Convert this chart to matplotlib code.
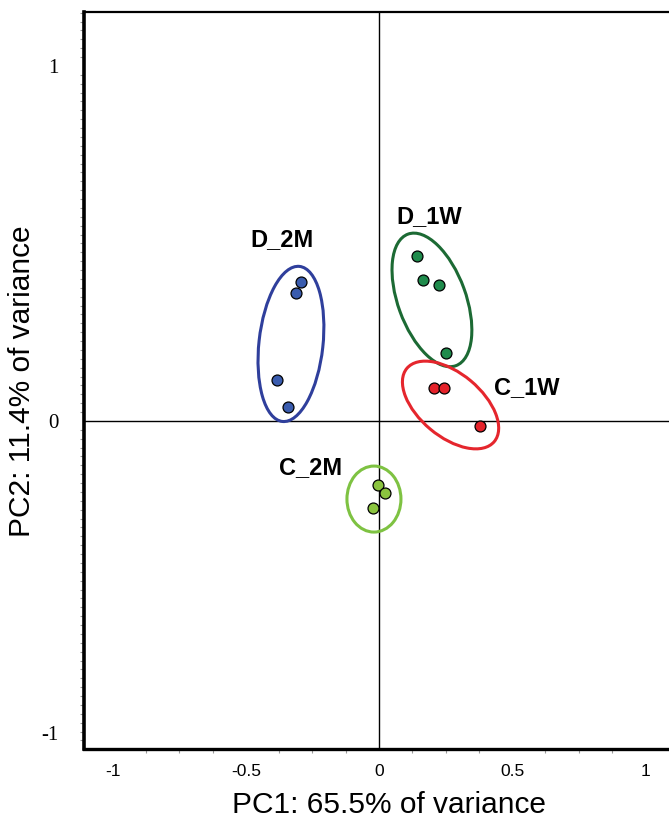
#!/usr/bin/env python

import numpy as np
import matplotlib
matplotlib.use('Agg')
from matplotlib import pyplot as plt
from matplotlib.patches import Ellipse
import matplotlib.transforms as mtransforms
from matplotlib.ticker import MultipleLocator, FixedLocator

# PCA scores (PC1, PC2)
d2m_pc1 = [-0.293, -0.312, -0.383, -0.342]
d2m_pc2 = [0.392, 0.361, 0.115, 0.039]

d1w_pc1 = [0.143, 0.165, 0.226, 0.252]
d1w_pc2 = [0.465, 0.397, 0.383, 0.192]

c1w_pc1 = [0.205, 0.246, 0.380]
c1w_pc2 = [0.093, 0.093, -0.014]

c2m_pc1 = [-0.005, 0.023, -0.024]
c2m_pc2 = [-0.180, -0.204, -0.246]

group_names = ['D_2M', 'D_1W', 'C_1W', 'C_2M']

# ellipse centres in data units
ell_pc1 = [-0.331, 0.199, 0.269, -0.019]
ell_pc2 = [0.217, 0.341, 0.045, -0.220]

# group label anchors in data units
label_pc1 = [-0.365, 0.188, 0.556, -0.256]
label_pc2 = [0.510, 0.577, 0.093, -0.132]

# y tick labels as the reference prints them
ytick_vals = [-0.88, 0, 1]
ytick_text = ['-1', '0', '1']
xtick_vals = [-1, -0.5, 0, 0.5, 1]
xtick_text = ['-1', '-0.5', '0', '0.5', '1']

# styles
point_cols = ['#3a5cae', '#1f8b4c', '#e4222a', '#8bc43f']
ring_cols = ['#2f3f9c', '#1c6a34', '#e5262d', '#7ec242']
# ellipse shape in inches (major, minor, angle in degrees)
ring_shape = [(1.56, 0.64, 83.7), (1.40, 0.68, 110.0), (1.14, 0.63, 140.0), (0.66, 0.54, 90.0)]

fig = plt.figure(figsize=(6.69, 8.21), dpi=100)
ax = fig.add_axes([84 / 669, 72 / 821, 590 / 669, 737 / 821])

ax.set_xlim(-1.109, 1.109)
ax.set_ylim(-0.924, 1.152)

# zero lines
ax.axhline(0, color='black', lw=1.0, zorder=1)
ax.axvline(0, color='black', lw=1.0, zorder=1)

xs = [d2m_pc1, d1w_pc1, c1w_pc1, c2m_pc1]
ys = [d2m_pc2, d1w_pc2, c1w_pc2, c2m_pc2]

for i, name in enumerate(group_names):

    # group ellipse, drawn in display space around its data centre
    w, h, ang = ring_shape[i]
    trans = fig.dpi_scale_trans + mtransforms.ScaledTranslation(ell_pc1[i], ell_pc2[i], ax.transData)
    ax.add_patch(Ellipse((0, 0), w, h, angle=ang, transform=trans,
                         fill=False, edgecolor=ring_cols[i], lw=2.2, zorder=2))

    # samples
    ax.scatter(xs[i], ys[i], s=62, color=point_cols[i], edgecolors='black',
               linewidths=0.9, zorder=3)

    # group label
    ax.text(label_pc1[i], label_pc2[i], name, fontsize=17, fontweight='bold',
            family='Liberation Sans', ha='center', va='center', zorder=4)

# axes frame
ax.spines['right'].set_visible(False)
ax.spines['left'].set_linewidth(2.6)
ax.spines['bottom'].set_linewidth(2.4)
ax.spines['top'].set_linewidth(1.6)

# ticks
ax.xaxis.set_major_locator(FixedLocator(xtick_vals))
ax.set_xticklabels(xtick_text, family='Liberation Sans', fontsize=12.5)
ax.yaxis.set_major_locator(FixedLocator(ytick_vals))
ax.set_yticklabels(ytick_text, family='Liberation Serif', fontsize=15)
ax.xaxis.set_minor_locator(MultipleLocator(0.125))
ax.yaxis.set_minor_locator(MultipleLocator(0.025))
ax.tick_params(which='major', length=0)
ax.tick_params(axis='x', which='major', pad=11)
ax.tick_params(axis='y', which='major', pad=18)
ax.tick_params(which='minor', length=3, width=0.8, color='#999999', direction='out')

# axis titles
fig.text(389 / 669, 1 - 805 / 821, 'PC1: 65.5% of variance', family='Liberation Sans',
         fontsize=21.5, ha='center', va='center')
fig.text(22 / 669, 1 - 381 / 821, 'PC2: 11.4% of variance', family='Liberation Sans',
         fontsize=21.5, ha='center', va='center', rotation=90)

fig.savefig('out.png', dpi=100, facecolor='white')
